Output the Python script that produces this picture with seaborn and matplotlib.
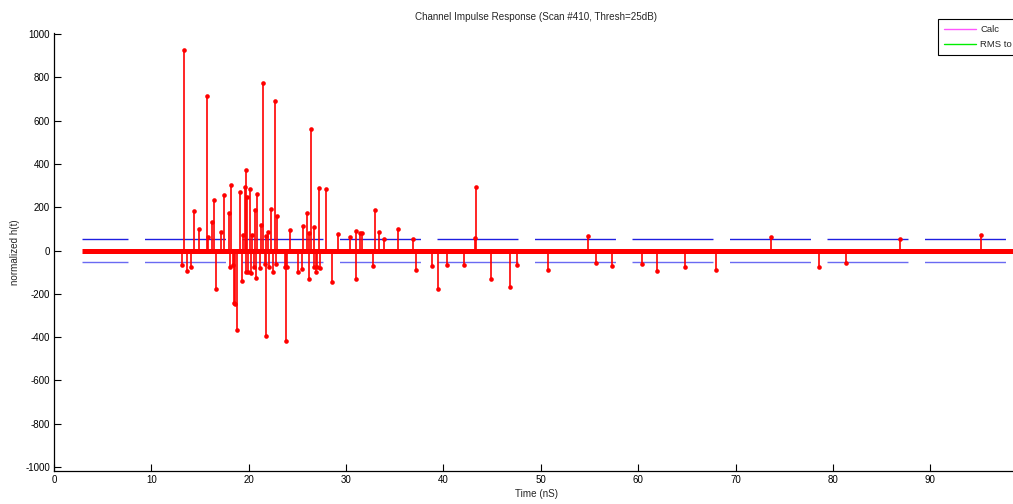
import numpy as np
import pandas as pd
import matplotlib
matplotlib.use("Agg")
import matplotlib.pyplot as plt
from matplotlib.lines import Line2D
import seaborn as sns

# ---------------- data ----------------
stem_time = [13.14, 13.38, 13.70, 14.10, 14.40, 14.90, 15.70, 15.85, 16.25, 16.46,
             16.63, 17.18, 17.42, 17.97, 18.04, 18.20, 18.35, 18.50, 18.55, 18.80,
             19.10, 19.30, 19.40, 19.58, 19.68, 19.75, 19.85, 19.90, 20.12, 20.20,
             20.36, 20.55, 20.60, 20.70, 20.80, 21.15, 21.22, 21.46, 21.63, 21.73,
             21.77, 21.97, 22.10, 22.25, 22.50, 22.66, 22.80, 22.90, 23.68, 23.85,
             23.90, 24.26, 25.10, 25.43, 25.53, 25.97, 26.15, 26.20, 26.39, 26.66,
             26.70, 26.87, 26.97, 27.24, 27.30, 27.90, 28.60, 29.16, 30.40, 30.97,
             31.00, 31.38, 31.60, 32.80, 32.96, 33.37, 33.90, 35.30, 36.90, 37.17,
             38.78, 39.46, 40.35, 42.10, 43.25, 43.30, 44.87, 46.80, 47.60, 50.70,
             54.80, 55.65, 57.30, 60.40, 61.94, 64.80, 67.97, 73.60, 78.60, 81.30,
             86.90, 95.20]
stem_value = [-66, 926, -94, -74, 183, 100, 716, 65, 132, 234,
              -178, 88, 255, 172, -75, 301, -66, -241, -248, -367,
              270, -141, 74, 292, 372, -98, 247, -98, 284, -103,
              74, -74, 189, -127, 260, -80, 120, 776, -61, 66,
              -396, 86, -77, 192, -98, 691, -61, 158, -77, -419,
              -77, 97, -98, -84, 112, 172, -130, 81, 562, -75,
              111, -98, -77, 287, -81, 284, -146, 77, 61, 92,
              -132, 83, 83, -69, 187, 88, 54, 100, 52, -91,
              -69, -178, -66, -66, 57, 295, -129, -169, -66, -88,
              66, -58, -69, -63, -95, -74, -88, 61, -78, -58,
              52, 74]
baseline_start = 2.9
baseline_end = 100.0
threshold = 52
x_ticks = list(range(0, 100, 10))
y_ticks = list(range(-1000, 1001, 200))
title_text = "Channel Impulse Response (Scan #410, Thresh=25dB)"
x_label = "Time (nS)"
y_label = "normalized h(t)"
legend_labels = ["Calc", "RMS to"]
legend_colors = ["#ff55ff", "#00ee00"]

# ---------------- figure ----------------
sns.set_theme(style="white")
plt.rcParams["font.family"] = ["Liberation Sans", "DejaVu Sans"]
plt.rcParams["axes.unicode_minus"] = False

W, H = 1013, 504
fig = plt.figure(figsize=(W / 100, H / 100), dpi=100)
left_px, right_px, top_px, bottom_px = 54, 1018, 33, 471
ax = fig.add_axes([left_px / W, 1 - bottom_px / H,
                   (right_px - left_px) / W, (bottom_px - top_px) / H])

# threshold lines (dashed, blue)
dash = (25.2, (58.3, 11.9))
ax.plot([baseline_start, baseline_end], [threshold, threshold],
        color="#1f1fe0", lw=1.0, linestyle=dash, zorder=1)
ax.plot([baseline_start, baseline_end], [-threshold, -threshold],
        color="#6a6af2", lw=1.0, linestyle=dash, zorder=1)

# stems
ax.vlines(stem_time, 0, stem_value, color="red", lw=1.2, zorder=2)
df = pd.DataFrame({"t": stem_time, "v": stem_value})
sns.scatterplot(data=df, x="t", y="v", color="red", s=11, linewidth=0,
                ax=ax, zorder=3, legend=False)
# thick zero baseline
ax.plot([baseline_start, baseline_end], [0, 0], color="red", lw=3.6,
        solid_capstyle="butt", zorder=2)

ax.set_xlim(0, 99)
ax.set_ylim(-1018, 1005)
ax.set_xticks(x_ticks)
ax.set_yticks(y_ticks)
ax.tick_params(direction="in", length=5, width=0.8, labelsize=7, pad=3,
               colors="black", bottom=True, left=True)
for s in ["top", "right"]:
    ax.spines[s].set_visible(False)
for s in ["left", "bottom"]:
    ax.spines[s].set_color("black")
    ax.spines[s].set_linewidth(0.9)

ax.set_title(title_text, fontsize=7.1, pad=9)
ax.set_xlabel(x_label, fontsize=7.1, labelpad=3)
ax.set_ylabel(y_label, fontsize=7.1, labelpad=4)

handles = [Line2D([0], [0], color=c, lw=1.0) for c in legend_colors]
leg = fig.legend(handles, legend_labels, loc="upper left",
                 bbox_to_anchor=(938 / W, 1 - 19 / H), fontsize=6.8,
                 frameon=True, fancybox=False, handlelength=3.4,
                 borderpad=0.65, labelspacing=0.65, handletextpad=0.4,
                 borderaxespad=0)
leg.get_frame().set_edgecolor("black")
leg.get_frame().set_linewidth(0.8)
leg.get_frame().set_alpha(1)

fig.savefig("out.png", dpi=100)
